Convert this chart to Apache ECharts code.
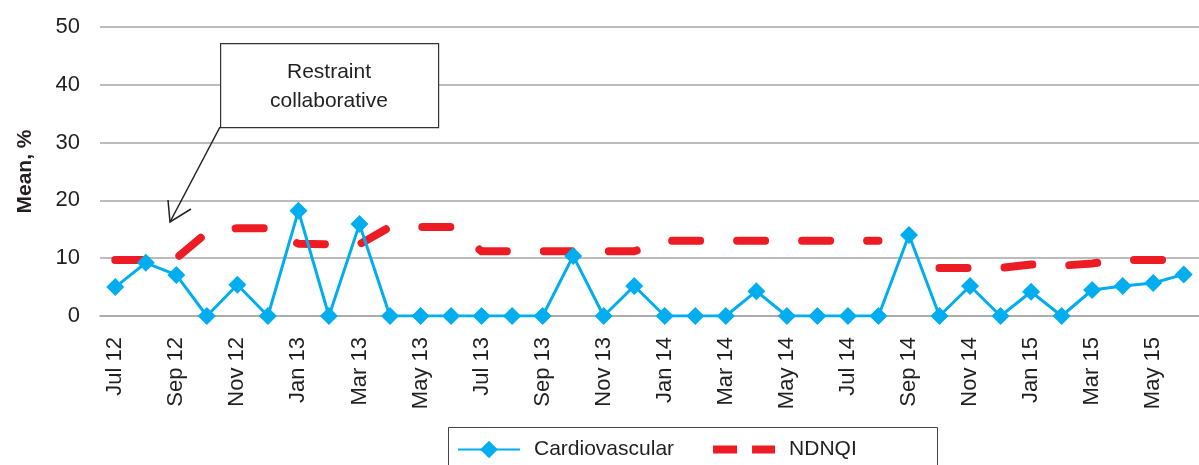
<!DOCTYPE html>
<html>
<head>
<meta charset="utf-8">
<script src="https://cdn.jsdelivr.net/npm/echarts@6/dist/echarts.min.js"></script>
<style>
html,body{margin:0;padding:0;background:#fff;}
#chart{width:1199px;height:465px;}
</style>
</head>
<body>
<div id="chart"></div>
<script>
var months = ['Jul 12','Aug 12','Sep 12','Oct 12','Nov 12','Dec 12',
  'Jan 13','Feb 13','Mar 13','Apr 13','May 13','Jun 13','Jul 13','Aug 13','Sep 13','Oct 13','Nov 13','Dec 13',
  'Jan 14','Feb 14','Mar 14','Apr 14','May 14','Jun 14','Jul 14','Aug 14','Sep 14','Oct 14','Nov 14','Dec 14',
  'Jan 15','Feb 15','Mar 15','Apr 15','May 15','Jun 15'];
var cardiovascular = [5.0, 9.2, 7.1, 0, 5.4, 0,
  18.2, 0, 15.9, 0, 0, 0, 0, 0, 0, 10.4, 0, 5.2,
  0, 0, 0, 4.3, 0, 0, 0, 0, 14.0, 0, 5.2, 0,
  4.2, 0, 4.5, 5.2, 5.7, 7.2];
var ndnqi = [9.7, 9.7, 10.0, 14.4, 15.2, 15.2,
  12.5, 12.4, 12.4, 15.4, 15.4, 15.4, 11.2, 11.2, 11.2, 11.2, 11.2, 11.2,
  13.0, 13.0, 13.0, 13.0, 13.0, 13.0, 13.0, 13.0, null, 8.3, 8.3, 8.3,
  8.9, 8.7, 9.1, 9.7, 9.7, 9.7];
var yTicks = {min: 0, max: 50, interval: 10};
var annotationText = 'Restraint\ncollaborative';

var FONT = '"Liberation Sans", Arial, sans-serif';
var TXT = '#231f20';
var BLUE = '#00aeef';
var RED = '#ed1c24';

var chart = echarts.init(document.getElementById('chart'), null, {renderer: 'canvas'});
chart.setOption({
  animation: false,
  backgroundColor: '#fff',
  textStyle: {fontFamily: FONT},
  grid: {left: 100, right: -3, top: 27, bottom: 149, containLabel: false},
  xAxis: {
    type: 'category',
    data: months,
    boundaryGap: true,
    axisTick: {show: false},
    axisLine: {show: true, lineStyle: {color: '#a6a6a6', width: 1.5}},
    axisLabel: {rotate: 90, interval: 1, margin: 21, fontSize: 22, color: TXT, fontFamily: FONT}
  },
  yAxis: {
    type: 'value',
    min: yTicks.min, max: yTicks.max, interval: yTicks.interval,
    name: 'Mean, %',
    nameLocation: 'middle',
    nameRotate: 90,
    nameGap: 64,
    nameTextStyle: {fontSize: 21, fontWeight: 'bold', color: TXT, fontFamily: FONT},
    axisLine: {show: false},
    axisTick: {show: false},
    axisLabel: {margin: 20, fontSize: 22, color: TXT, fontFamily: FONT},
    splitLine: {lineStyle: {color: '#a6a6a6', width: 1.5}}
  },
  legend: {
    left: 452, top: 434,
    itemWidth: 62, itemHeight: 22, itemGap: 35,
    textStyle: {fontSize: 21, color: TXT, fontFamily: FONT, padding: [0, 0, 0, 9]},
    data: [
      {name: 'Cardiovascular'},
      {name: 'NDNQI', itemStyle: {opacity: 0}, lineStyle: {type: [24, 15], width: 8, cap: 'butt'}}
    ]
  },
  series: [
    {
      name: 'NDNQI', type: 'line', data: ndnqi, symbol: 'none', z: 2, connectNulls: false,
      lineStyle: {color: RED, width: 8, type: [28, 37], cap: 'round', join: 'round'},
      itemStyle: {color: RED}
    },
    {
      name: 'Cardiovascular', type: 'line', data: cardiovascular, z: 3,
      symbol: 'diamond', symbolSize: 18,
      lineStyle: {color: BLUE, width: 3},
      itemStyle: {color: BLUE}
    }
  ],
  graphic: [
    {type: 'rect', left: 446, top: 425, z: 0, silent: true,
      shape: {x: 0, y: 0, width: 489, height: 60},
      style: {fill: 'none', stroke: '#444', lineWidth: 1}},
    {type: 'rect', left: 220, top: 43, z: 10, silent: true,
      shape: {x: 0, y: 0, width: 218, height: 84},
      style: {fill: '#fff', stroke: '#333', lineWidth: 1.2}},
    {type: 'text', x: 329, y: 87, z: 11, silent: true,
      style: {text: annotationText, fill: TXT, font: '21px ' + FONT, align: 'center', verticalAlign: 'middle', lineHeight: 29}},
    {type: 'polyline', z: 11, silent: true,
      shape: {points: [[220, 127], [170, 222]]},
      style: {stroke: '#222', lineWidth: 1.5, fill: 'none'}},
    {type: 'polyline', z: 11, silent: true,
      shape: {points: [[168, 200], [170, 222], [191, 209]]},
      style: {stroke: '#222', lineWidth: 1.5, fill: 'none'}}
  ]
});
</script>
</body>
</html>
